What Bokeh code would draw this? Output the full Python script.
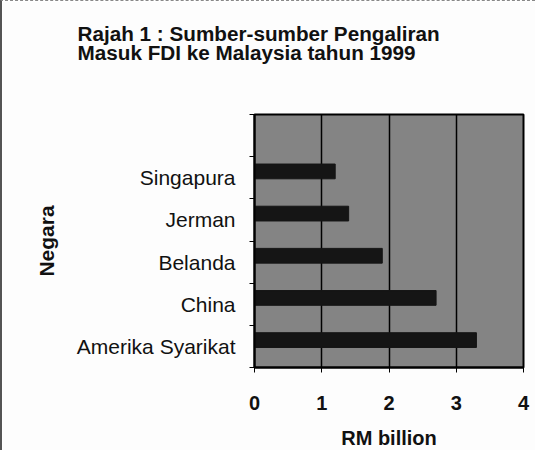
from bokeh.plotting import figure
from bokeh.models import FixedTicker, Title
from bokeh.embed import file_html
from bokeh.resources import INLINE

# data
countries = ["Amerika Syarikat", "China", "Belanda", "Jerman", "Singapura"]
values = [3.3, 2.7, 1.9, 1.4, 1.2]
x_ticks = [0, 1, 2, 3, 4]
title_lines = ["Rajah 1 : Sumber-sumber Pengaliran", "Masuk FDI  ke Malaysia tahun 1999"]

FONT = "Liberation Sans"
idx = list(range(len(countries)))
bar_y = [i + 0.15 for i in idx]

p = figure(width=535, height=450, output_backend="svg", toolbar_location=None,
           x_range=(0, 4), y_range=(-0.5, 5.5),
           min_border_left=252, min_border_right=14, min_border_top=113, min_border_bottom=78)
p.background_fill_color = "#848484"
p.border_fill_color = "#fdfdfd"
p.outline_line_color = "black"
p.outline_line_width = 2

p.hbar(y=bar_y, right=values, left=0, height=0.35, fill_color="#151515", line_color="#151515")

# grids
p.ygrid.grid_line_color = None
p.xgrid.ticker = FixedTicker(ticks=x_ticks)
p.xgrid.grid_line_color = "black"
p.xgrid.grid_line_width = 1.5

# x axis
xa = p.xaxis[0]
xa.ticker = FixedTicker(ticks=x_ticks)
xa.major_tick_out = 5
xa.major_tick_in = 0
xa.major_tick_line_color = "black"
xa.minor_tick_line_color = None
xa.axis_line_color = "black"
xa.axis_line_width = 2
xa.major_label_text_font = FONT
xa.major_label_text_font_style = "bold"
xa.major_label_text_font_size = "20px"
xa.major_label_text_color = "#111111"
xa.major_label_standoff = 23
xa.axis_label = "RM billion"
xa.axis_label_text_font = FONT
xa.axis_label_text_font_style = "bold"
xa.axis_label_text_font_size = "20px"
xa.axis_label_text_color = "#111111"
xa.axis_label_standoff = 14

# y axis
ya = p.yaxis[0]
ya.ticker = FixedTicker(ticks=idx, minor_ticks=[i - 0.5 for i in range(len(countries) + 2)])
ya.major_label_overrides = {i: c for i, c in zip(idx, countries)}
ya.major_tick_line_color = None
ya.major_tick_out = 0
ya.major_tick_in = 0
ya.minor_tick_out = 5
ya.minor_tick_in = 0
ya.minor_tick_line_color = "black"
ya.axis_line_color = "black"
ya.axis_line_width = 2
ya.major_label_text_font = FONT
ya.major_label_text_font_size = "21px"
ya.major_label_text_color = "#111111"
ya.major_label_standoff = 14
ya.axis_label = "Negara"
ya.axis_label_text_font = FONT
ya.axis_label_text_font_style = "bold"
ya.axis_label_text_font_size = "21px"
ya.axis_label_text_color = "#111111"
ya.axis_label_standoff = 16

# two-line title (two trailing blank lines lift it above the plot area)
title = Title(text="\n".join(title_lines) + "\n\n", align="left", offset=-177, standoff=21,
              text_font=FONT, text_font_style="bold", text_font_size="20.7px",
              text_color="#111111", text_line_height=0.86)
p.add_layout(title, "above")

p.styles = {"border-left": "2px solid #555555", "border-top": "1px dashed #888888"}

open("out.html", "w").write(file_html(p, INLINE))
